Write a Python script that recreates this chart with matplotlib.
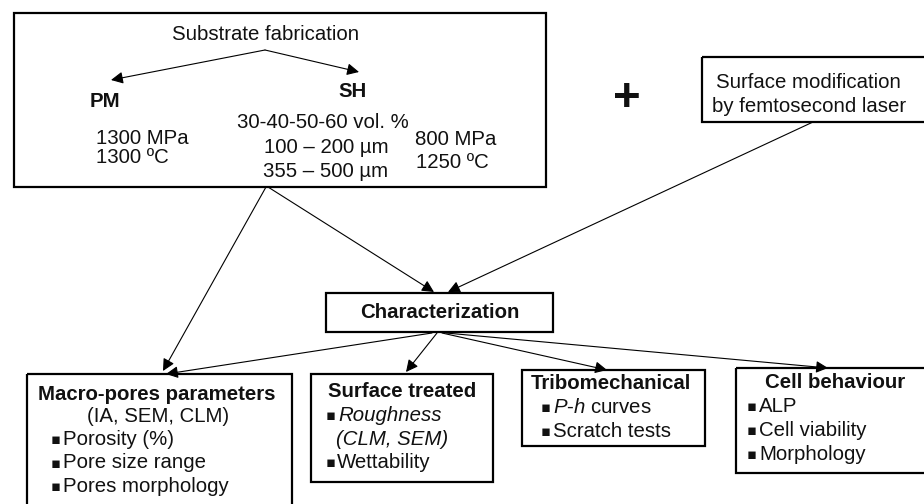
import matplotlib
matplotlib.use("Agg")
import matplotlib.pyplot as plt
from matplotlib.patches import Rectangle

FONT = ['Liberation Sans', 'DejaVu Sans']
plt.rcParams['font.family'] = FONT
plt.rcParams['mathtext.fontset'] = 'custom'
plt.rcParams['mathtext.rm'] = 'Liberation Sans'
plt.rcParams['mathtext.it'] = 'Liberation Sans:italic'

# ---- diagram content ----
title_top = "Substrate fabrication"
branch_labels = ["PM", "SH"]
pm_params = ["1300 MPa", "1300 ºC"]
sh_params = ["30-40-50-60 vol. %", "100 – 200 µm", "355 – 500 µm"]
sh_press = ["800 MPa", "1250 ºC"]
laser_lines = ["Surface modification", "by femtosecond laser"]
char_label = "Characterization"
macro_title = ["Macro-pores parameters", "(IA, SEM, CLM)"]
macro_items = ["Porosity (%)", "Pore size range", "Pores morphology"]
surf_title = "Surface treated"
surf_items = ["Roughness", "(CLM, SEM)", "Wettability"]
tribo_title = "Tribomechanical"
tribo_items = ["$\\it{P}$-$\\it{h}$ curves", "Scratch tests"]
cell_title = "Cell behaviour"
cell_items = ["ALP", "Cell viability", "Morphology"]

W, H = 924, 504
fig = plt.figure(figsize=(W / 100, H / 100), dpi=100)
ax = fig.add_axes([0, 0, 1, 1])
ax.set_xlim(0, W)
ax.set_ylim(H, 0)
ax.axis('off')

FS = 14.7
BOX_LW = 1.6
LINE_LW = 0.8


def box(x0, y0, x1, y1):
    ax.add_patch(Rectangle((x0, y0), x1 - x0, y1 - y0, fill=False,
                           edgecolor='black', lw=BOX_LW, clip_on=True))


def arrow(x0, y0, x1, y1):
    ax.annotate('', xy=(x1, y1), xytext=(x0, y0),
                arrowprops=dict(arrowstyle='-|>,head_length=0.6,head_width=0.3',
                                mutation_scale=12, lw=LINE_LW, color='black',
                                shrinkA=0, shrinkB=0))


def txt(x, y, s, ha='left', bold=False, italic=False, fs=FS):
    ax.text(x, y, s, ha=ha, va='baseline', fontsize=fs,
            fontweight='bold' if bold else 'normal',
            fontstyle='italic' if italic else 'normal', family=FONT,
            color='#111111')


def bullet(x, y):
    ax.text(x, y, '▪', ha='left', va='baseline', fontsize=10.5,
            family=['DejaVu Sans'], color='#111111')


# ---- boxes ----
box(14, 13, 546, 187)
box(702, 57, 935, 122)
box(326, 293, 553, 332)
box(27, 374, 292, 530)
box(311, 374, 493, 482)
box(522, 370, 705, 446)
box(736, 368, 935, 473)

# ---- top box text ----
txt(266, 40, title_top, ha='center')
txt(90, 107, branch_labels[0], bold=True)
txt(353, 97, branch_labels[1], ha='center', bold=True)
txt(96, 144, pm_params[0])
txt(96, 163, pm_params[1])
txt(323, 128, sh_params[0], ha='center')
txt(326, 153, sh_params[1], ha='center')
txt(326, 177, sh_params[2], ha='center')
txt(415, 145, sh_press[0])
txt(416, 168, sh_press[1])

arrow(265, 50, 111, 80)
arrow(265, 50, 359, 72)

# plus sign
ax.text(627, 99, '+', ha='center', va='center', fontsize=34,
        fontweight='bold', family=FONT, color='#111111')

# laser box
txt(808, 88, laser_lines[0], ha='center')
txt(809, 112, laser_lines[1], ha='center')

# characterization
txt(440, 318, char_label, ha='center', bold=True)

arrow(266, 187, 163, 371)
arrow(268, 187, 434, 292)
arrow(813, 122, 448, 292)

arrow(432, 333, 166, 374)
arrow(437, 333, 406, 372)
arrow(442, 333, 607, 370)
arrow(446, 333, 828, 368)

# macro box
txt(157, 400, macro_title[0], ha='center', bold=True)
txt(158, 422, macro_title[1], ha='center')
for i, s in enumerate(macro_items):
    y = 445 + i * 23.5
    bullet(51, y - 1)
    txt(63, y, s)

# surface treated box
txt(402, 397, surf_title, ha='center', bold=True)
bullet(326, 420)
txt(338, 421, surf_items[0], italic=True)
txt(336, 445, surf_items[1], italic=True)
bullet(326, 467)
txt(337, 468, surf_items[2])

# tribomechanical box
txt(611, 389, tribo_title, ha='center', bold=True)
for i, s in enumerate(tribo_items):
    y = 413 + i * 24
    bullet(541, y - 1)
    txt(553, y, s)

# cell behaviour box
txt(835, 388, cell_title, ha='center', bold=True)
for i, s in enumerate(cell_items):
    y = 412 + i * 24
    bullet(747, y - 1)
    txt(759, y, s)

fig.savefig('out.png', dpi=100)
